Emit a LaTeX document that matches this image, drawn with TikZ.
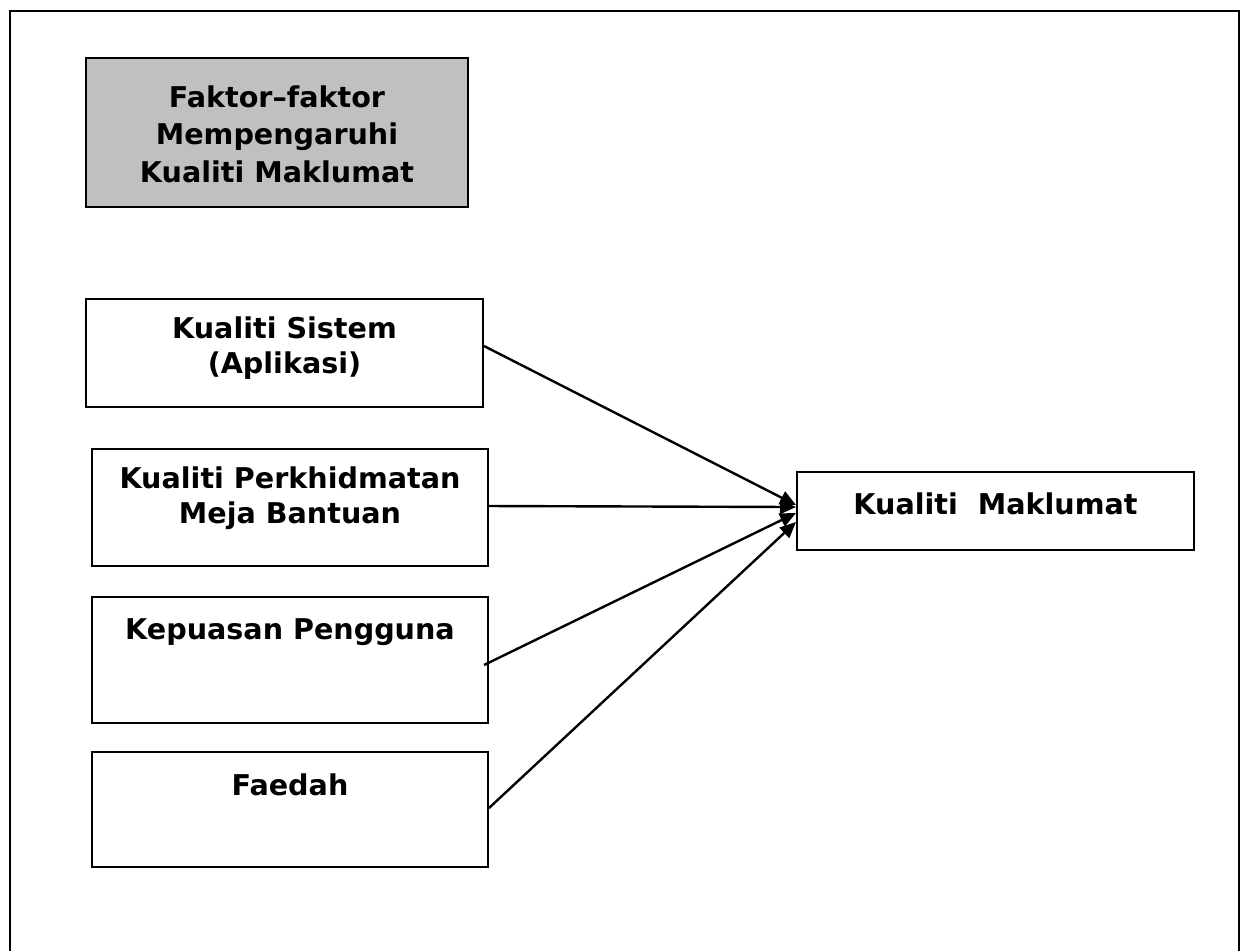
\documentclass[tikz,border=0pt]{standalone}
\usepackage{fontspec}
\setmainfont{DejaVu Sans}
\usetikzlibrary{arrows.meta}
\definecolor{titlegrey}{HTML}{C0C0C0}

\begin{document}
\begin{tikzpicture}[x=.5pt,y=-.5pt,font=\bfseries\fontsize{14.3}{17.5}\selectfont,
  factorbox/.style={draw,line width=1pt,minimum width=198pt,align=center,inner sep=0pt},
  influence/.style={-{Triangle[length=8pt,width=7pt]},line width=1.2pt}]
  \useasboundingbox (0,0) rectangle (1241,950);
  \draw[line width=1pt] (10,960) |- (1239,11) -- (1239,960);
  \node[factorbox,fill=titlegrey,minimum width=191pt,minimum height=74.5pt,
    font=\bfseries\fontsize{14.3}{18.75}\selectfont,text height=53.5pt,text depth=4pt] (title) at (277,132.5)
    {Faktor–faktor\\Mempengaruhi\\Kualiti Maklumat};
  \node[factorbox,minimum width=198.5pt,minimum height=54pt,text height=24pt,text depth=4pt] (sys) at (284.5,353) {Kualiti Sistem\\(Aplikasi)};
  \node[factorbox,minimum height=58.5pt,text height=19.5pt,text depth=4pt] (desk) at (290,507.5) {Kualiti Perkhidmatan\\Meja Bantuan};
  \node[factorbox,minimum height=63pt,text height=11pt,text depth=32pt] (user) at (290,660) {Kepuasan Pengguna};
  \node[factorbox,minimum height=57.5pt,text height=11pt,text depth=25.5pt] (benefit) at (290,809.5) {Faedah};
  \node[factorbox,minimum width=198.5pt,minimum height=39pt,text height=11pt,text depth=8pt] (info) at (995.5,511) {Kualiti~~Maklumat};
  \draw[influence] ([yshift=3.5pt]sys.east) -- ([yshift=3pt]info.west);
  \draw[influence] ([yshift=.75pt]desk.east) -- ([yshift=2pt]info.west);
  \draw[influence] ([xshift=-2.5pt,yshift=-2.5pt]user.east) -- ([yshift=-1pt]info.west);
  \draw[influence] ([yshift=.75pt]benefit.east) -- ([yshift=-5.5pt]info.west);
\end{tikzpicture}
\end{document}
